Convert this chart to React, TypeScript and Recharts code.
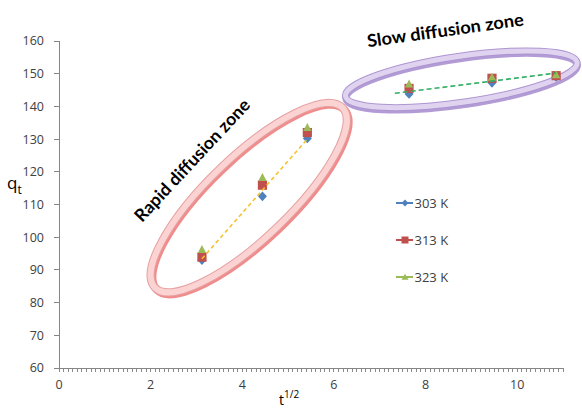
import React from 'react';
import { ScatterChart, Scatter, XAxis, YAxis, ReferenceDot, ReferenceLine } from 'recharts';

// ---- data ----
const xValues = [3.12, 4.44, 5.42, 7.64, 9.45, 10.85];
const q303 = [93.0, 112.5, 130.2, 143.8, 147.2, 149.0];
const q313 = [93.9, 115.9, 132.0, 145.5, 148.6, 149.4];
const q323 = [96.4, 118.4, 133.7, 147.0, 149.1, 149.8];
const seriesNames = ['303 K', '313 K', '323 K'];

const trendRapidX = [3.12, 5.42];
const trendRapidY = [93.4, 130.0];
const trendSlowX = [7.33, 10.85];
const trendSlowY = [144.0, 150.2];

const yTicks = [60, 70, 80, 90, 100, 110, 120, 130, 140, 150, 160];
const xMajorTicks = [0, 2, 4, 6, 8, 10];
const xMinorTicks = Array.from({ length: 111 }, (_, i) => i / 10);

const zoneLabels = ['Rapid diffusion zone', 'Slow diffusion zone'];

const toPts = (xs: number[], ys: number[]) => xs.map((x, i) => ({ x, y: ys[i] }));
const d303 = toPts(xValues, q303);
const d313 = toPts(xValues, q313);
const d323 = toPts(xValues, q323);
const dTrendRapid = toPts(trendRapidX, trendRapidY);
const dTrendSlow = toPts(trendSlowX, trendSlowY);

const BLUE = '#4f81bd';
const RED = '#c0504d';
const GREEN = '#9bbb59';
const FONT = '"Open Sans", "Noto Sans", sans-serif';
const AXIS = '#868686';
const Y_MIN = 60;
const MINOR_TICK_DATA_LEN = 1.2; // about 4px below the x axis

const Diamond = (p: any) => {
  const { cx, cy } = p;
  if (cx == null || cy == null) return <g />;
  const w = 4.5, h = 4.8;
  return <polygon points={`${cx},${cy - h} ${cx + w},${cy} ${cx},${cy + h} ${cx - w},${cy}`} fill={BLUE} />;
};
const Square = (p: any) => {
  const { cx, cy } = p;
  if (cx == null || cy == null) return <g />;
  return <rect x={cx - 4.6} y={cy - 4.6} width={9.2} height={9.2} fill={RED} />;
};
const Triangle = (p: any) => {
  const { cx, cy } = p;
  if (cx == null || cy == null) return <g />;
  const w = 4.2, h = 4;
  return <polygon points={`${cx},${cy - h} ${cx + w},${cy + h} ${cx - w},${cy + h}`} fill={GREEN} />;
};
const NoShape = () => <g />;

const renderXTick = (props: any) => {
  const { x, y, payload } = props;
  const v = payload.value;
  return (
    <text x={x} y={y + 15} textAnchor="middle" fontSize={12.5} fill="#404040" fontFamily={FONT}>
      {Math.round(v)}
    </text>
  );
};

const ZoneEllipse = (rx: number, ry: number, angle: number, sw: number, shadow: string, edge: string, inner: string) => (p: any) => {
  const { cx, cy } = p;
  if (cx == null || cy == null) return <g />;
  return (
    <g transform={`rotate(${angle} ${cx} ${cy})`}>
      <ellipse cx={cx} cy={cy + 2.5} rx={rx} ry={ry} fill="none" stroke={shadow} strokeWidth={sw} />
      <ellipse cx={cx} cy={cy} rx={rx} ry={ry} fill="none" stroke={edge} strokeWidth={sw} />
      <ellipse cx={cx} cy={cy} rx={rx} ry={ry} fill="none" stroke={inner} strokeWidth={sw - 2} />
    </g>
  );
};

const ZoneText = (text: string, angle: number, len: number) => (p: any) => {
  const { cx, cy } = p;
  if (cx == null || cy == null) return <g />;
  return (
    <text
      x={cx}
      y={cy}
      transform={`rotate(${angle} ${cx} ${cy})`}
      textAnchor="middle"
      dominantBaseline="central"
      fontFamily='Lato, "Open Sans", sans-serif'
      fontWeight="bold"
      fontSize={17.5}
      fill="#000"
      textLength={len}
      lengthAdjust="spacingAndGlyphs"
    >
      {text}
    </text>
  );
};

const YTitle = (props: any) => {
  const vb = props.viewBox || { x: 0, y: 41, width: 59, height: 327 };
  return (
    <text x={vb.x + 7} y={vb.y + vb.height / 2 - 16} fontFamily={FONT} fill="#000">
      <tspan fontSize={17}>q</tspan>
      <tspan fontSize={12} dy={5}>t</tspan>
    </text>
  );
};

const XTitle = (props: any) => {
  const vb = props.viewBox || { x: 59, y: 368, width: 504, height: 30 };
  return (
    <text x={vb.x + 220} y={vb.y + 37} fontFamily={FONT} fill="#000">
      <tspan fontSize={14}>t</tspan>
      <tspan fontSize={10} dy={-7}>1/2</tspan>
    </text>
  );
};

const legendColors = [BLUE, RED, GREEN];
const LegendBox = () => (
  <svg width={70} height={90} style={{ position: 'absolute', left: 396, top: 195, overflow: 'visible' }}>
    {seriesNames.map((name, i) => {
      const y = 8 + i * 37;
      const c = legendColors[i];
      let marker: React.ReactNode;
      if (i === 0) marker = <polygon points={`9,${y - 3.5} 12.5,${y} 9,${y + 3.5} 5.5,${y}`} fill={c} />;
      else if (i === 1) marker = <rect x={5.5} y={y - 3.5} width={7} height={7} fill={c} />;
      else marker = <polygon points={`9,${y - 3.2} 12.5,${y + 2.8} 5.5,${y + 2.8}`} fill={c} />;
      return (
        <g key={name}>
          <line x1={0} x2={17} y1={y} y2={y} stroke={c} strokeWidth={2} />
          {marker}
          <text x={18.5} y={y} dominantBaseline="central" fontSize={13} fontFamily={FONT} fill="#404040">
            {name}
          </text>
        </g>
      );
    })}
  </svg>
);

export default function App() {
  return (
    <div style={{ position: 'absolute', left: 0, top: 0, width: 582, height: 409, background: '#fff' }}>
      <ScatterChart width={582} height={409} margin={{ top: 41, right: 19, bottom: 11, left: 0 }}>
        <XAxis
          type="number"
          dataKey="x"
          domain={[0, 11]}
          ticks={xMajorTicks}
          interval={0}
          tickSize={4}
          tickMargin={2}
          tick={renderXTick}
          axisLine={{ stroke: AXIS, shapeRendering: 'crispEdges' }}
          tickLine={false}
          height={30}
          allowDataOverflow
          label={{ content: XTitle }}
        />
        <YAxis
          type="number"
          dataKey="y"
          domain={[Y_MIN, 160]}
          ticks={yTicks}
          interval={0}
          width={59}
          tickSize={5}
          tickMargin={10}
          tick={{ fontSize: 12.5, fill: '#404040', fontFamily: FONT }}
          axisLine={{ stroke: AXIS, shapeRendering: 'crispEdges' }}
          tickLine={{ stroke: AXIS, shapeRendering: 'crispEdges' }}
          allowDataOverflow
          label={{ content: YTitle }}
        />
        {xMinorTicks.map((v) => (
          <ReferenceLine
            key={`mt-${v}`}
            segment={[
              { x: v, y: Y_MIN },
              { x: v, y: Y_MIN - MINOR_TICK_DATA_LEN },
            ]}
            ifOverflow="visible"
            stroke="#8a8a8a"
            strokeWidth={1}
            shapeRendering="crispEdges"
          />
        ))}
        <ReferenceDot
          x={4.14}
          y={112.1}
          ifOverflow="visible"
          shape={ZoneEllipse(130, 41, -43.8, 8, '#f08c8c', '#e6a0a0', '#fbd3d3')}
        />
        <ReferenceDot
          x={8.78}
          y={148.3}
          ifOverflow="visible"
          shape={ZoneEllipse(117, 23, -8.3, 7, '#b39cd6', '#ad95d0', '#dfd3f0')}
        />
        <ReferenceDot x={2.9} y={123.6} ifOverflow="visible" shape={ZoneText(zoneLabels[0], -47, 160)} />
        <ReferenceDot x={8.43} y={163.4} ifOverflow="visible" shape={ZoneText(zoneLabels[1], -8, 158)} />
        <Scatter name={seriesNames[0]} data={d303} shape={Diamond} isAnimationActive={false} />
        <Scatter name={seriesNames[1]} data={d313} shape={Square} isAnimationActive={false} />
        <Scatter name={seriesNames[2]} data={d323} shape={Triangle} isAnimationActive={false} />
        <Scatter
          data={dTrendRapid}
          shape={NoShape}
          line={{ stroke: '#f5c02a', strokeWidth: 1.6, strokeDasharray: '4 3' }}
          legendType="none"
          isAnimationActive={false}
        />
        <Scatter
          data={dTrendSlow}
          shape={NoShape}
          line={{ stroke: '#2fad62', strokeWidth: 1.6, strokeDasharray: '5 3' }}
          legendType="none"
          isAnimationActive={false}
        />
      </ScatterChart>
      <LegendBox />
    </div>
  );
}
